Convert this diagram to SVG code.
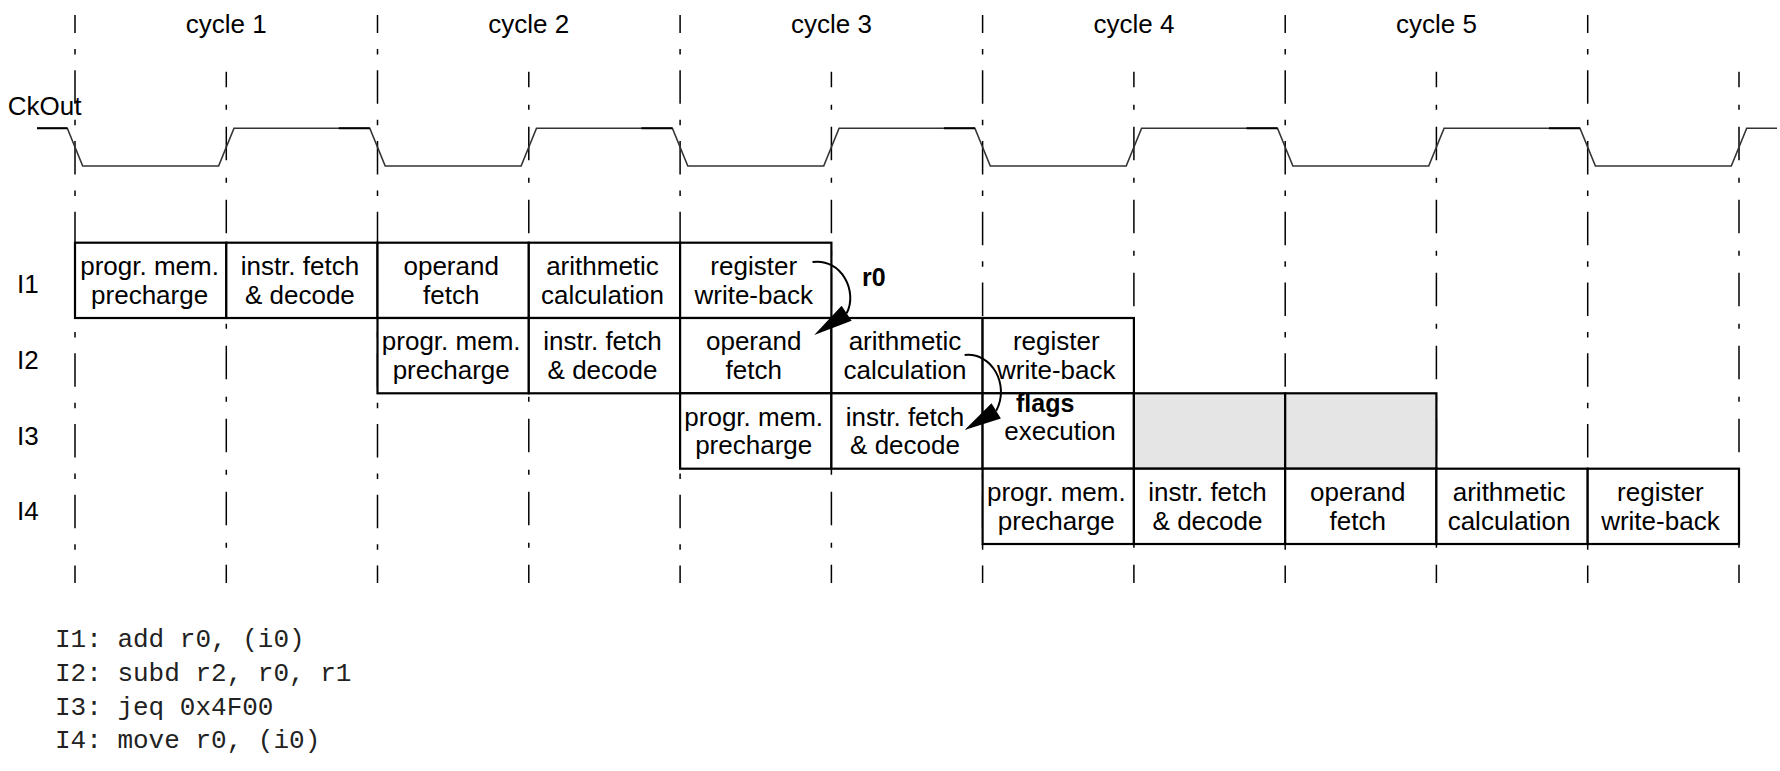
<svg xmlns="http://www.w3.org/2000/svg" width="1780" height="771" viewBox="0 0 1780 771">
<style>
  .t { font-family: "Liberation Sans", Arial, sans-serif; font-size: 26px; fill: #000; }
  .c { text-anchor: middle; }
  .b { font-weight: bold; font-size: 25px; }
  .code { font-family: "Liberation Mono", "Courier New", monospace; font-size: 26px; fill: #222; }
  .gA { stroke: #000; stroke-width: 1.5; stroke-dasharray: 33.5 16 5.5 15.75; stroke-dashoffset: 15.5; fill: none; }
  .gB { stroke: #000; stroke-width: 1.5; stroke-dasharray: 33.5 17.5 5 17; stroke-dashoffset: 18; fill: none; }
  .box { fill: #fff; stroke: #000; stroke-width: 2.2; }
  .gray { fill: #e5e5e5; stroke: #000; stroke-width: 2.2; }
  .clk { fill: none; stroke: #333; stroke-width: 1.6; stroke-linejoin: miter; }
  .clkd { fill: none; stroke: #000; stroke-width: 2; }
  .arc { fill: none; stroke: #000; stroke-width: 2; }
</style>

<g id="grid">
  <line class="gA" x1="75" y1="15" x2="75" y2="583"/>
  <line class="gA" x1="377.5" y1="15" x2="377.5" y2="583"/>
  <line class="gA" x1="680.1" y1="15" x2="680.1" y2="583"/>
  <line class="gA" x1="982.6" y1="15" x2="982.6" y2="583"/>
  <line class="gA" x1="1285.2" y1="15" x2="1285.2" y2="583"/>
  <line class="gA" x1="1587.7" y1="15" x2="1587.7" y2="583"/>
  <line class="gB" x1="226.3" y1="71.7" x2="226.3" y2="583"/>
  <line class="gB" x1="528.8" y1="71.7" x2="528.8" y2="583"/>
  <line class="gB" x1="831.4" y1="71.7" x2="831.4" y2="583"/>
  <line class="gB" x1="1133.9" y1="71.7" x2="1133.9" y2="583"/>
  <line class="gB" x1="1436.4" y1="71.7" x2="1436.4" y2="583"/>
  <line class="gB" x1="1739" y1="71.7" x2="1739" y2="583"/>
</g>

<g id="cycle-labels">
  <text class="t c" x="226.3" y="33">cycle 1</text>
  <text class="t c" x="528.8" y="33">cycle 2</text>
  <text class="t c" x="831.4" y="33">cycle 3</text>
  <text class="t c" x="1133.9" y="33">cycle 4</text>
  <text class="t c" x="1436.4" y="33">cycle 5</text>
</g>

<g id="clock">
  <text class="t" x="7.7" y="115">CkOut</text>
  <path class="clk" d="M37,128.3 H67.3 L82.7,166 H218.6 L234,128.3 H369.8 L385.2,166 H521.1 L536.5,128.3 H672.4 L687.8,166 H823.7 L839.1,128.3 H974.9 L990.3,166 H1126.2 L1141.6,128.3 H1277.5 L1292.9,166 H1428.7 L1444.1,128.3 H1580 L1595.4,166 H1731.3 L1746.7,128.3 H1777"/>
  <path class="clkd" d="M37,128.3 H67.3 M338.8,128.3 H369.8 M641.4,128.3 H672.4 M943.9,128.3 H974.9 M1246.5,128.3 H1277.5 M1549,128.3 H1580"/>
</g>

<g id="row-labels">
  <text class="t" x="17" y="293">I1</text>
  <text class="t" x="17" y="368.5">I2</text>
  <text class="t" x="17" y="444.5">I3</text>
  <text class="t" x="17" y="519.5">I4</text>
</g>

<!-- I1 -->
<g id="I1-precharge"><rect class="box" x="75" y="242.7" width="151.3" height="75.3"/><text class="t c" x="149.6" y="274.9">progr. mem.</text><text class="t c" x="149.6" y="303.6">precharge</text></g>
<g id="I1-fetch"><rect class="box" x="226.3" y="242.7" width="151.2" height="75.3"/><text class="t c" x="299.9" y="274.9">instr. fetch</text><text class="t c" x="299.9" y="303.6">&amp; decode</text></g>
<g id="I1-operand"><rect class="box" x="377.5" y="242.7" width="151.3" height="75.3"/><text class="t c" x="451.2" y="274.9">operand</text><text class="t c" x="451.2" y="303.6">fetch</text></g>
<g id="I1-arith"><rect class="box" x="528.8" y="242.7" width="151.3" height="75.3"/><text class="t c" x="602.5" y="274.9">arithmetic</text><text class="t c" x="602.5" y="303.6">calculation</text></g>
<g id="I1-writeback"><rect class="box" x="680.1" y="242.7" width="151.3" height="75.3"/><text class="t c" x="753.7" y="274.9">register</text><text class="t c" x="753.7" y="303.6">write-back</text></g>

<!-- I2 -->
<g id="I2-precharge"><rect class="box" x="377.5" y="318" width="151.3" height="75.3"/><text class="t c" x="451.2" y="350.2">progr. mem.</text><text class="t c" x="451.2" y="378.9">precharge</text></g>
<g id="I2-fetch"><rect class="box" x="528.8" y="318" width="151.3" height="75.3"/><text class="t c" x="602.5" y="350.2">instr. fetch</text><text class="t c" x="602.5" y="378.9">&amp; decode</text></g>
<g id="I2-operand"><rect class="box" x="680.1" y="318" width="151.3" height="75.3"/><text class="t c" x="753.7" y="350.2">operand</text><text class="t c" x="753.7" y="378.9">fetch</text></g>
<g id="I2-arith"><rect class="box" x="831.4" y="318" width="151.2" height="75.3"/><text class="t c" x="905" y="350.2">arithmetic</text><text class="t c" x="905" y="378.9">calculation</text></g>
<g id="I2-writeback"><rect class="box" x="982.6" y="318" width="151.3" height="75.3"/><text class="t c" x="1056.3" y="350.2">register</text><text class="t c" x="1056.3" y="378.9">write-back</text></g>

<!-- I3 -->
<g id="I3-precharge"><rect class="box" x="680.1" y="393.3" width="151.3" height="75.4"/><text class="t c" x="753.7" y="425.5">progr. mem.</text><text class="t c" x="753.7" y="454.3">precharge</text></g>
<g id="I3-fetch"><rect class="box" x="831.4" y="393.3" width="151.2" height="75.4"/><text class="t c" x="905" y="425.5">instr. fetch</text><text class="t c" x="905" y="454.3">&amp; decode</text></g>
<g id="I3-execution"><rect class="box" x="982.6" y="393.3" width="151.3" height="75.4"/><text class="t c" x="1060" y="440">execution</text></g>
<g id="I3-stall1"><rect class="gray" x="1133.9" y="393.3" width="151.3" height="75.4"/></g>
<g id="I3-stall2"><rect class="gray" x="1285.2" y="393.3" width="151.2" height="75.4"/></g>

<!-- I4 -->
<g id="I4-precharge"><rect class="box" x="982.6" y="468.7" width="151.3" height="75.3"/><text class="t c" x="1056.3" y="500.9">progr. mem.</text><text class="t c" x="1056.3" y="529.6">precharge</text></g>
<g id="I4-fetch"><rect class="box" x="1133.9" y="468.7" width="151.3" height="75.3"/><text class="t c" x="1207.5" y="500.9">instr. fetch</text><text class="t c" x="1207.5" y="529.6">&amp; decode</text></g>
<g id="I4-operand"><rect class="box" x="1285.2" y="468.7" width="151.2" height="75.3"/><text class="t c" x="1357.8" y="500.9">operand</text><text class="t c" x="1357.8" y="529.6">fetch</text></g>
<g id="I4-arith"><rect class="box" x="1436.4" y="468.7" width="151.3" height="75.3"/><text class="t c" x="1509.1" y="500.9">arithmetic</text><text class="t c" x="1509.1" y="529.6">calculation</text></g>
<g id="I4-writeback"><rect class="box" x="1587.7" y="468.7" width="151.3" height="75.3"/><text class="t c" x="1660.4" y="500.9">register</text><text class="t c" x="1660.4" y="529.6">write-back</text></g>

<g id="connectors">
  <path class="arc" d="M812.5,262 C842,258 858,292 846.6,313.3"/>
  <polygon points="814.2,335 851.6,320.8 841.6,305.8" fill="#000"/>
  <text class="t b" x="862" y="286">r0</text>
  <path class="arc" d="M964.6,355 C992,352 1010,385 996.2,410.9"/>
  <polygon points="964.6,430 1000.9,418.6 991.5,403.2" fill="#000"/>
  <text class="t b" x="1016" y="412">flags</text>
</g>

<g id="code">
  <text class="code" x="55" y="647" xml:space="preserve">I1: add r0, (i0)</text>
  <text class="code" x="55" y="681" xml:space="preserve">I2: subd r2, r0, r1</text>
  <text class="code" x="55" y="714.5" xml:space="preserve">I3: jeq 0x4F00</text>
  <text class="code" x="55" y="748" xml:space="preserve">I4: move r0, (i0)</text>
</g>
</svg>
